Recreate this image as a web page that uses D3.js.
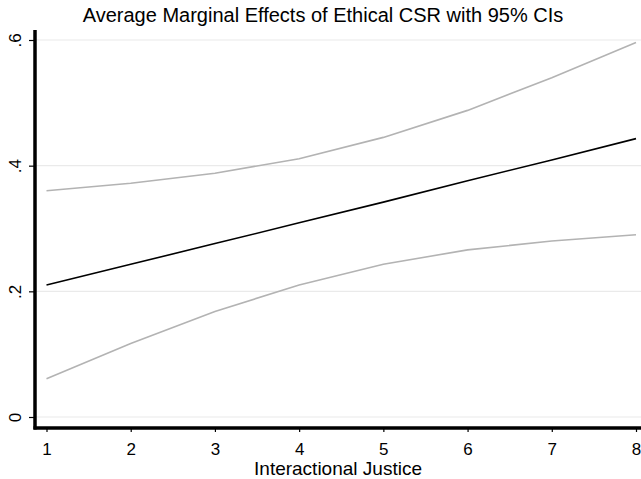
<!DOCTYPE html>
<html>
<head>
<meta charset="utf-8">
<script src="https://cdn.jsdelivr.net/npm/d3@7"></script>
<style>
  body { margin: 0; background: #fff; }
  text { font-family: "Liberation Sans", Arial, sans-serif; fill: #000; }
</style>
</head>
<body>
<svg id="chart" width="641" height="479"></svg>
<script>
// values
var xTicks = [1, 2, 3, 4, 5, 6, 7, 8];
var yTicks = [0, 0.2, 0.4, 0.6];
var yTickLabels = ["0", ".2", ".4", ".6"];
var effect = [0.210, 0.243, 0.276, 0.309, 0.342, 0.376, 0.409, 0.443];
var upper = [0.360, 0.372, 0.388, 0.411, 0.445, 0.488, 0.540, 0.596];
var lower = [0.061, 0.117, 0.168, 0.210, 0.243, 0.266, 0.280, 0.290];

var svg = d3.select("#chart");
var width = +svg.attr("width"), height = +svg.attr("height");

var xScale = d3.scaleLinear().domain([1, 8]).range([46.5, 636]);
var yScale = d3.scaleLinear().domain([0, 0.6]).range([417, 40]);

var axisX = 35, axisY = 428;

// gridlines
svg.append("g").selectAll("line")
    .data(yTicks)
    .enter().append("line")
    .attr("x1", axisX).attr("x2", width)
    .attr("y1", function(d) { return yScale(d); })
    .attr("y2", function(d) { return yScale(d); })
    .attr("stroke", "#eaeaea")
    .attr("stroke-width", 1.2);

// lines
var line = d3.line()
    .x(function(d, i) { return xScale(xTicks[i]); })
    .y(function(d) { return yScale(d); });

[[upper, "#b3b3b3"], [lower, "#b3b3b3"], [effect, "#000"]].forEach(function(s) {
    svg.append("path")
        .datum(s[0])
        .attr("d", line)
        .attr("fill", "none")
        .attr("stroke", s[1])
        .attr("stroke-width", 1.6);
});

// x axis
var xAxis = d3.axisBottom(xScale).tickValues(xTicks)
    .tickFormat(d3.format("d"))
    .tickSize(4).tickPadding(11);
var gx = svg.append("g")
    .attr("transform", "translate(0," + axisY + ")")
    .call(xAxis);
gx.select(".domain").remove();
gx.selectAll("line").attr("stroke", "#000").attr("stroke-width", 1.2);
gx.selectAll("text").style("font-size", "17px").attr("fill", "#000");
svg.append("line")
    .attr("x1", axisX - 1.5).attr("x2", width)
    .attr("y1", axisY).attr("y2", axisY)
    .attr("stroke", "#000").attr("stroke-width", 3.5);

// y axis
var yAxis = d3.axisLeft(yScale).tickValues(yTicks)
    .tickFormat(function(d, i) { return yTickLabels[i]; })
    .tickSize(5).tickPadding(0);
var gy = svg.append("g")
    .attr("transform", "translate(" + (axisX - 1) + ",0)")
    .call(yAxis);
gy.select(".domain").remove();
gy.selectAll("line").attr("stroke", "#000").attr("stroke-width", 1.2);
gy.selectAll("text")
    .style("font-size", "17px")
    .attr("fill", "#000")
    .attr("x", null).attr("dy", null)
    .attr("text-anchor", "middle")
    .attr("transform", "translate(-13,0) rotate(-90)");
svg.append("line")
    .attr("x1", axisX).attr("x2", axisX)
    .attr("y1", 30).attr("y2", axisY + 1.5)
    .attr("stroke", "#000").attr("stroke-width", 3.5);

// titles
svg.append("text")
    .attr("x", 323).attr("y", 22)
    .attr("text-anchor", "middle")
    .style("font-size", "20px")
    .text("Average Marginal Effects of Ethical CSR with 95% CIs");

svg.append("text")
    .attr("x", 338).attr("y", 475)
    .attr("text-anchor", "middle")
    .style("font-size", "19px")
    .text("Interactional Justice");
</script>
</body>
</html>
